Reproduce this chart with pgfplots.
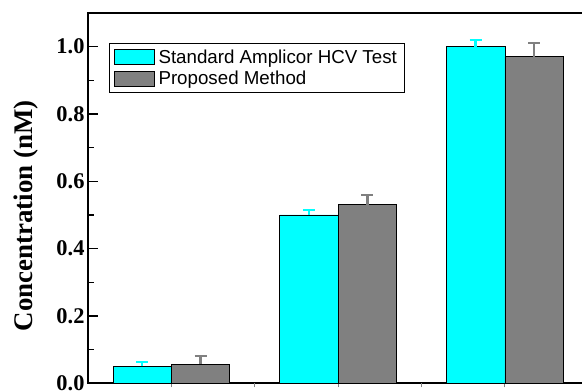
\documentclass[border=0pt]{standalone}
\usepackage{fontspec}
\setmainfont{Liberation Serif}
\newfontfamily\legendfont{Liberation Sans}
\usepackage{pgfplots}
\pgfplotsset{compat=1.18}
\definecolor{barcyan}{RGB}{0,255,255}
\definecolor{bargray}{RGB}{128,128,128}

\pgfplotsset{
  swatch/.style={legend image code/.code={%
      \draw[##1, line width=1bp] (0bp,-7.5bp) rectangle (40bp,7.5bp);}},
}

\begin{document}
\begin{tikzpicture}
\begin{axis}[
  scale only axis,
  width=500.3bp, height=370.3bp,
  xmin=0.5, xmax=3.5,
  ymin=0, ymax=1.1,
  ybar=0pt, bar width=0.35,
  axis line style={line width=2bp},
  tick align=inside,
  major tick length=10bp, minor tick length=6bp,
  tick style={line width=1.5bp, black},
  xtick=\empty,
  extra x ticks={1,1.5,2,2.5,3},
  extra x tick labels={},
  extra x tick style={major tick length=4bp, tick align=outside,
                      tick style={line width=1bp, gray}},
  xtick pos=left,
  ytick={0,0.2,0.4,0.6,0.8,1.0},
  minor ytick={0.1,0.3,0.5,0.7,0.9},
  ytick pos=left,
  /pgf/number format/.cd, fixed, fixed zerofill, precision=1, assume math mode=true,
  /pgfplots/.cd,
  yticklabel style={font=\bfseries\fontsize{22.5}{22.5}\selectfont},
  ylabel={Concentration (nM)},
  ylabel style={at={(axis description cs:-0.124,0.452)}, anchor=center,
                font=\bfseries\fontsize{27}{30}\selectfont},
  legend style={at={(axis description cs:0.0426,0.9198)}, anchor=north west,
                draw=black, line width=1bp, inner xsep=4.5bp, inner ysep=3.5bp,
                row sep=1bp,
                font=\legendfont\fontsize{18.8}{21}\selectfont,
                nodes={inner xsep=3.2bp, inner ysep=2.8bp}},
  legend cell align=left,
]
\addplot[swatch, fill=barcyan, draw=black, line width=0.8bp,
  error bars/.cd, y dir=plus, y explicit,
  error bar style={barcyan, line width=2.5bp},
  error mark options={rotate=90, barcyan, mark size=6bp, line width=2bp}]
  coordinates {(1,0.050) +- (0,0.012) (2,0.500) +- (0,0.015) (3,1.000) +- (0,0.020)};
\addlegendentry{Standard Amplicor HCV Test}
\addplot[swatch, fill=bargray, draw=black, line width=0.8bp,
  error bars/.cd, y dir=plus, y explicit,
  error bar style={bargray, line width=2.5bp},
  error mark options={rotate=90, bargray, mark size=6bp, line width=2bp}]
  coordinates {(1,0.057) +- (0,0.024) (2,0.530) +- (0,0.030) (3,0.970) +- (0,0.040)};
\addlegendentry{Proposed Method}
\end{axis}
\pgfresetboundingbox
\path ([xshift=-88bp,yshift=-8.7bp]current axis.south west) rectangle ++(582bp,392bp);
\end{tikzpicture}
\end{document}
